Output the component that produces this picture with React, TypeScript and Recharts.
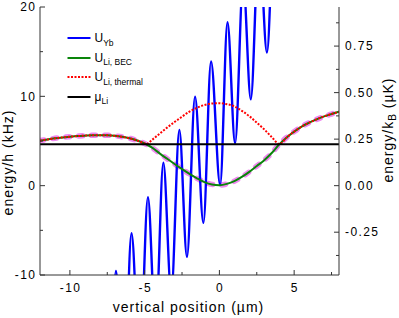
import React from 'react';
import { LineChart, Line, XAxis, YAxis, Legend } from 'recharts';

// ---------- data ----------
const POSITION_UM = [-12, -11.5, -11, -10.5, -10, -9.5, -9, -8.5, -8, -7.5, -7, -6.5, -6, -5.5, -5, -4.5, -4, -3.5, -3, -2.5, -2, -1.5, -1, -0.5, 0, 0.5, 1, 1.5, 2, 2.5, 3, 3.5, 4, 4.5, 5, 5.5, 6, 6.5, 7, 7.5, 8];
const U_LI_BEC_KHZ = [5.04, 5.18, 5.30, 5.40, 5.48, 5.55, 5.60, 5.64, 5.65, 5.64, 5.58, 5.47, 5.30, 5.05, 4.72, 4.25, 3.62, 3.02, 2.43, 1.86, 1.31, 0.82, 0.40, 0.14, 0.06, 0.20, 0.50, 0.98, 1.55, 2.20, 2.85, 3.65, 4.62, 5.40, 6.05, 6.62, 7.05, 7.42, 7.75, 8.02, 8.27];

const THERMAL_POSITION_UM = [-12, -11.5, -11, -10.5, -10, -9.5, -9, -8.5, -8, -7.5, -7, -6.5, -6, -5.5, -5, -4.9, -4.5, -4, -3.5, -3, -2.5, -2, -1.5, -1, -0.5, 0, 0.5, 1, 1.5, 2, 2.5, 3, 3.5, 4.02, 4.5, 5, 5.5, 6, 6.5, 7, 7.5, 8];
const U_LI_THERMAL_KHZ = [5.04, 5.18, 5.30, 5.40, 5.48, 5.55, 5.60, 5.64, 5.65, 5.64, 5.58, 5.47, 5.30, 5.05, 4.72, 4.65, 5.14, 5.82, 6.50, 7.12, 7.72, 8.30, 8.72, 9.03, 9.20, 9.23, 9.12, 8.88, 8.38, 7.78, 7.05, 6.30, 5.45, 4.65, 5.40, 6.05, 6.62, 7.05, 7.42, 7.75, 8.02, 8.27];

const YB_POSITION_UM = [-7.98, -7.45, -6.92, -6.40, -5.88, -5.33, -4.78, -4.27, -3.75, -3.22, -2.68, -2.17, -1.63, -1.07, -0.56, 0.05, 0.54, 1.05, 1.59, 2.10, 2.65, 3.18, 3.72, 4.25, 4.80];
const U_YB_KHZ = [-13.8, -28, -9.55, -24, -5.33, -20, -1.3, -16, 2.58, -12, 6.24, -7.97, 9.97, -4.17, 13.9, 0.08, 18.3, 4.75, 23, 9.67, 27.5, 14.9, 32, 20.3, 36];

const MU_POSITION_UM = [-12, 8];
const MU_LI_UK = [0.223, 0.223];

const X_TICKS = [-10, -7.5, -5, -2.5, 0, 2.5, 5, 7.5];
const X_TICK_LABELS = [-10, -5, 0, 5];
const Y_TICKS_KHZ = [-10, -5, 0, 5, 10, 15, 20];
const Y_TICK_LABELS_KHZ = [-10, 0, 10, 20];
const Y_TICKS_UK = [-0.375, -0.25, -0.125, 0, 0.125, 0.25, 0.375, 0.5, 0.625, 0.75, 0.875];
const Y_TICK_LABELS_UK = [-0.25, 0, 0.25, 0.5, 0.75];

const X_DOMAIN = [-12, 8];
const Y_DOMAIN_KHZ = [-10, 20];
const Y_DOMAIN_UK = [-0.48, 0.96];

const LEGEND_MAIN = ['U', 'U', 'U', 'μ'];
const LEGEND_SUB = ['Yb', 'Li, BEC', 'Li, thermal', 'Li'];

// ---------- styles ----------
const FONT = '"Liberation Sans", Arial, Helvetica, sans-serif';
const AXIS_COLOR = '#333';
const BLUE = '#0000ff';
const GREEN = '#0a850a';
const RED = '#ff0000';
const PINK = '#f088f0';
const BLACK = '#000000';
const RED_DASH = '2 1.5';
const LEGEND_COLORS = [BLUE, GREEN, RED, BLACK];
const LEGEND_DASHES = [undefined, undefined, RED_DASH, undefined];

const MAJOR = 5;
const MINOR = 3;

function BottomTick(props: any) {
  const { x, y, payload } = props;
  const major = X_TICK_LABELS.includes(payload.value);
  return (
    <g>
      <line x1={x} x2={x} y1={y} y2={y - (major ? MAJOR : MINOR)} stroke={AXIS_COLOR} strokeWidth={1} />
      {major && (
        <text x={x + 0.7} y={y + 16.7} textAnchor="middle" fontFamily={FONT} fontSize={12} fill="#000" style={{ letterSpacing: 1.4 }}>
          {String(payload.value)}
        </text>
      )}
    </g>
  );
}

function TopTick(props: any) {
  const { x, y, payload } = props;
  const major = X_TICK_LABELS.includes(payload.value);
  return <line x1={x} x2={x} y1={y} y2={y + (major ? MAJOR : MINOR)} stroke={AXIS_COLOR} strokeWidth={1} />;
}

function LeftTick(props: any) {
  const { x, y, payload } = props;
  const major = Y_TICK_LABELS_KHZ.includes(payload.value);
  return (
    <g>
      <line x1={x} x2={x + (major ? MAJOR : MINOR)} y1={y} y2={y} stroke={AXIS_COLOR} strokeWidth={1} />
      {major && (
        <text x={x - 5 + 1.4} y={y + 4.3} textAnchor="end" fontFamily={FONT} fontSize={12} fill="#000" style={{ letterSpacing: 1.4 }}>
          {String(payload.value)}
        </text>
      )}
    </g>
  );
}

function RightTick(props: any) {
  const { x, y, payload } = props;
  const major = Y_TICK_LABELS_UK.includes(payload.value);
  return (
    <g>
      <line x1={x} x2={x - (major ? MAJOR : MINOR)} y1={y} y2={y} stroke={AXIS_COLOR} strokeWidth={1} />
      {major && (
        <text x={x + 6} y={y + 4.3} textAnchor="start" fontFamily={FONT} fontSize={12} fill="#000" style={{ letterSpacing: 1.4 }}>
          {payload.value.toFixed(2)}
        </text>
      )}
    </g>
  );
}

function renderLegend() {
  return (
    <div style={{ position: 'relative', width: 110, height: 80, fontFamily: FONT, color: '#000' }}>
      {LEGEND_MAIN.map((m, i) => (
        <div key={i} style={{ position: 'absolute', left: 0, top: i * 19.45, width: 110, height: 19.4 }}>
          <svg width={24} height={6} style={{ position: 'absolute', left: 0, top: 6.7 }}>
            <line x1={0.5} x2={23.5} y1={3} y2={3} stroke={LEGEND_COLORS[i]} strokeWidth={2} strokeDasharray={LEGEND_DASHES[i]} />
          </svg>
          <div style={{ position: 'absolute', left: 28, top: 3.6, fontSize: 12, lineHeight: '12px', whiteSpace: 'nowrap' }}>
            {m}
            <span style={{ fontSize: 8.5, position: 'relative', top: 3.5 }}>{LEGEND_SUB[i]}</span>
          </div>
        </div>
      ))}
    </div>
  );
}

export default function App() {
  const becData = POSITION_UM.map((x, i) => ({ x, y: U_LI_BEC_KHZ[i] }));
  const thermalData = THERMAL_POSITION_UM.map((x, i) => ({ x, y: U_LI_THERMAL_KHZ[i] }));
  const ybData = YB_POSITION_UM.map((x, i) => ({ x, y: U_YB_KHZ[i] }));
  const muData = MU_POSITION_UM.map((x, i) => ({ x, y: MU_LI_UK[i] }));

  return (
    <div style={{ position: 'absolute', left: 0, top: 0, width: 399, height: 318, background: '#fff' }}>
      <LineChart width={399} height={318} margin={{ top: 7, right: 0, bottom: 0, left: 0 }}>
        <XAxis
          xAxisId="bottom"
          type="number"
          dataKey="x"
          orientation="bottom"
          domain={X_DOMAIN}
          allowDataOverflow
          ticks={X_TICKS}
          interval={0}
          height={43}
          tickSize={0}
          tickMargin={0}
          tickLine={false}
          tick={(p: any) => <BottomTick {...p} />}
          axisLine={{ stroke: AXIS_COLOR, strokeWidth: 1 }}
          label={{
            content: (p: any) => {
              const vb = p.viewBox;
              return (
                <text x={vb.x + vb.width / 2 - 1} y={vb.y + 37} textAnchor="middle" fontFamily={FONT} fontSize={14} fill="#000" style={{ letterSpacing: 1 }}>
                  vertical position (µm)
                </text>
              );
            },
          }}
        />
        <XAxis
          xAxisId="top"
          type="number"
          dataKey="x"
          orientation="top"
          domain={X_DOMAIN}
          allowDataOverflow
          ticks={X_TICKS}
          interval={0}
          height={0}
          tickSize={0}
          tickMargin={0}
          tickLine={false}
          tick={(p: any) => <TopTick {...p} />}
          axisLine={{ stroke: AXIS_COLOR, strokeWidth: 1 }}
        />
        <YAxis
          yAxisId="left"
          type="number"
          orientation="left"
          domain={Y_DOMAIN_KHZ}
          allowDataOverflow
          ticks={Y_TICKS_KHZ}
          interval={0}
          width={40}
          tickSize={0}
          tickMargin={0}
          tickLine={false}
          tick={(p: any) => <LeftTick {...p} />}
          axisLine={{ stroke: AXIS_COLOR, strokeWidth: 1 }}
          label={{
            content: (p: any) => {
              const vb = p.viewBox;
              const x = vb.x + 13;
              const y = vb.y + 155.5;
              return (
                <text x={x} y={y} transform={`rotate(-90 ${x} ${y})`} textAnchor="middle" fontFamily={FONT} fontSize={14} fill="#000" style={{ letterSpacing: 1 }}>
                  energy/h (kHz)
                </text>
              );
            },
          }}
        />
        <YAxis
          yAxisId="right"
          type="number"
          orientation="right"
          domain={Y_DOMAIN_UK}
          allowDataOverflow
          ticks={Y_TICKS_UK}
          interval={0}
          width={60}
          tickSize={0}
          tickMargin={0}
          tickLine={false}
          tick={(p: any) => <RightTick {...p} />}
          axisLine={{ stroke: AXIS_COLOR, strokeWidth: 1 }}
          label={{
            content: (p: any) => {
              const vb = p.viewBox;
              const x = vb.x + 54;
              const y = vb.y + 123;
              return (
                <text x={x} y={y} transform={`rotate(-90 ${x} ${y})`} textAnchor="middle" fontFamily={FONT} fontSize={14} fill="#000" style={{ letterSpacing: 1 }}>
                  energy/k
                  <tspan dy={3} fontSize={10}>B</tspan>
                  <tspan dy={-3}> (µK)</tspan>
                </text>
              );
            },
          }}
        />

        <Line
          data={becData}
          xAxisId="bottom"
          yAxisId="left"
          dataKey="y"
          name="U_Li"
          type="monotone"
          stroke={PINK}
          strokeWidth={5.5}
          strokeDasharray="4 9"
          strokeLinecap="round"
          dot={false}
          activeDot={false}
          legendType="none"
          isAnimationActive={false}
        />
        <Line
          data={ybData}
          xAxisId="bottom"
          yAxisId="left"
          dataKey="y"
          name="U_Yb"
          type="monotone"
          stroke={BLUE}
          strokeWidth={2.4}
          dot={false}
          activeDot={false}
          isAnimationActive={false}
        />
        <Line
          data={becData}
          xAxisId="bottom"
          yAxisId="left"
          dataKey="y"
          name="U_Li, BEC"
          type="monotone"
          stroke={GREEN}
          strokeWidth={2}
          dot={false}
          activeDot={false}
          isAnimationActive={false}
        />
        <Line
          data={thermalData}
          xAxisId="bottom"
          yAxisId="left"
          dataKey="y"
          name="U_Li, thermal"
          type="monotone"
          stroke={RED}
          strokeWidth={2}
          strokeDasharray={RED_DASH}
          dot={false}
          activeDot={false}
          isAnimationActive={false}
        />
        <Line
          data={muData}
          xAxisId="top"
          yAxisId="right"
          dataKey="y"
          name="μ_Li"
          type="linear"
          stroke={BLACK}
          strokeWidth={2}
          dot={false}
          activeDot={false}
          isAnimationActive={false}
        />

        <Legend
          layout="vertical"
          align="center"
          verticalAlign="middle"
          content={renderLegend}
          wrapperStyle={{ left: 66.5, top: 28.6, width: 110, height: 80 }}
        />
      </LineChart>
    </div>
  );
}
